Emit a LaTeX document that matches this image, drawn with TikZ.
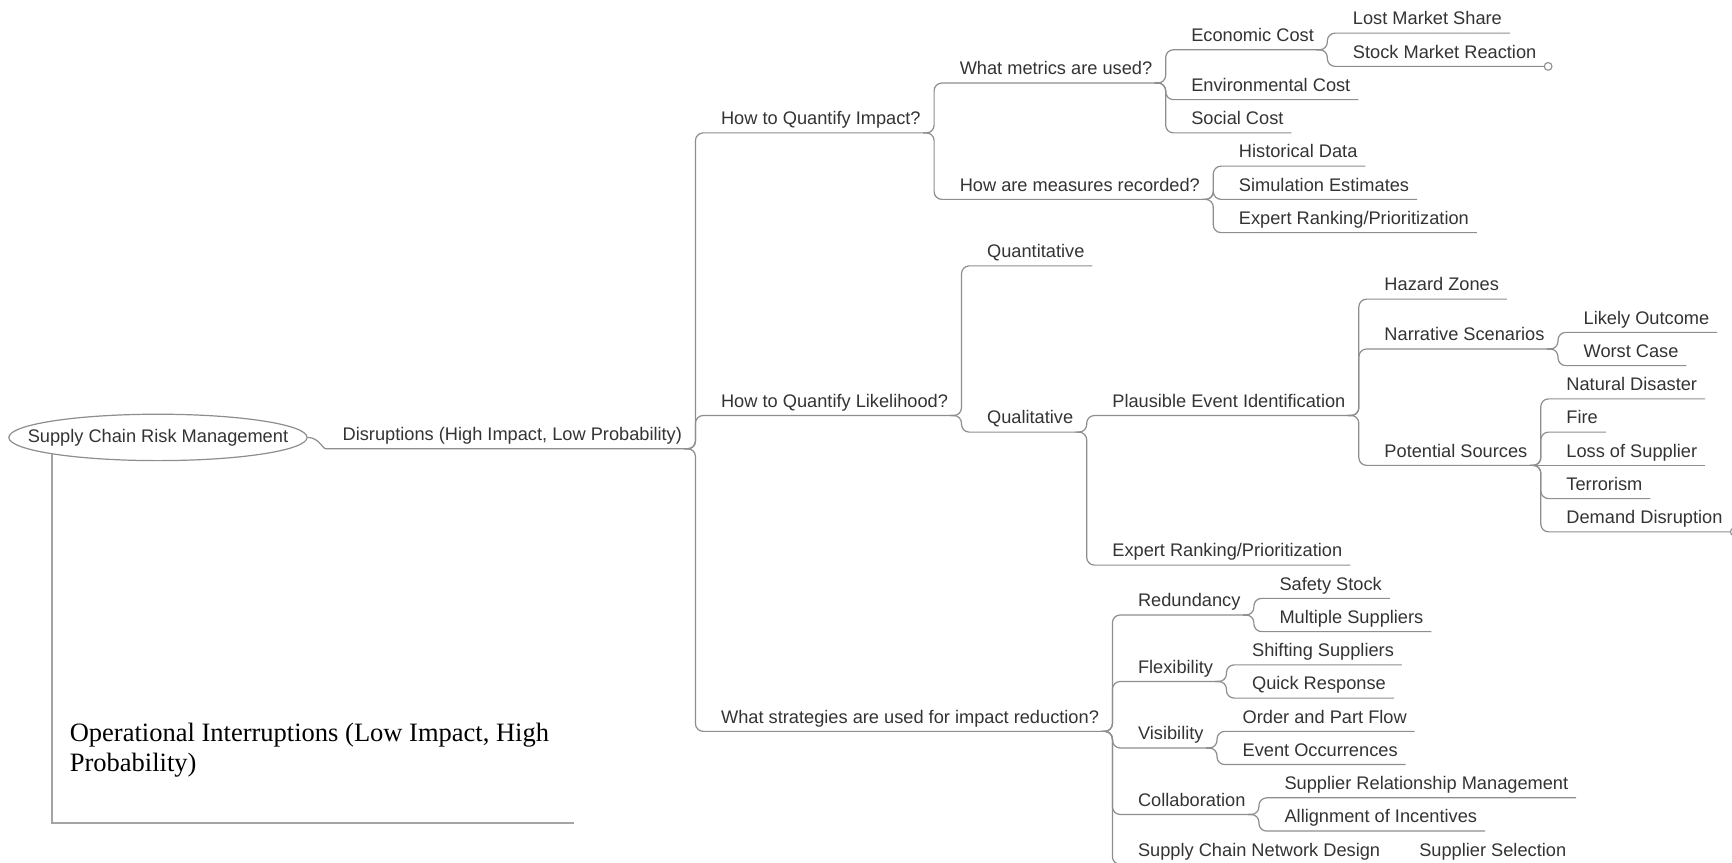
\documentclass[tikz,border=0pt]{standalone}
\usepackage{fontspec}
\setmainfont{Liberation Sans}
\newfontfamily\opfont{Liberation Serif}
\usetikzlibrary{calc,shapes.geometric}
\definecolor{linec}{HTML}{8E8E8E}
\definecolor{textc}{HTML}{333333}
\definecolor{boxc}{HTML}{A4A4A4}
\tikzset{
  txt/.style={inner sep=0pt, anchor=base west, text=textc, font=\fontsize{16.5}{19}\selectfont},
  ln/.style={draw=linec, line width=1.1pt, rounded corners=7pt},
  handle/.style={circle, draw=linec, line width=1pt, minimum size=7pt, inner sep=0pt},
}
\newcommand\mmlink[2]{%
  \draw[ln] ($(#1.base east)+(2,7.5)$) -- ($(#1.base east)+(12,7.5)$) |- ($(#2.base east)+(7,7.5)$);}
\newcommand\mmstraight[2]{%
  \draw[ln] ($(#1.base east)+(2,7.5)$) -- ($(#2.base east)+(7,7.5)$);}
\newcommand\mmnode[4]{%
  \path let \p1=(#2.base east) in node[txt] (#1) at (\x1+35pt, #3+5.5) {#4};}
\newcommand\mmchild[4]{\mmnode{#1}{#2}{#3}{#4}\mmlink{#2}{#1}}
\newcommand\mmchildS[4]{\mmnode{#1}{#2}{#3}{#4}\mmstraight{#2}{#1}}
\begin{document}
\begin{tikzpicture}[x=1pt,y=-1pt]
\useasboundingbox (0,0) rectangle (1568,781);
% root
\node[ellipse, draw=linec, line width=1.1pt, minimum width=270pt, minimum height=42pt,
      inner sep=0pt] (root) at (143,396) {};
\node[inner sep=0pt, text=textc, font=\fontsize{16.5}{19}\selectfont] (rootlbl) at (root.center) {Supply Chain Risk Management};
\node[txt] (D) at (310,398.75) {Disruptions (High Impact, Low Probability)};
\draw[ln] (root.east) to[out=0,in=180] ($(D.base west)+(-8,7.5)$) -- ($(D.base east)+(7,7.5)$);
% level 1
\mmchild{I}{D}{107.3}{How to Quantify Impact?}
\mmchild{Lk}{D}{363.15}{How to Quantify Likelihood?}
\mmchild{S}{D}{649.1}{What strategies are used for impact reduction?}
% impact
\mmchild{M}{I}{62.15}{What metrics are used?}
\mmchild{R}{I}{167.5}{How are measures recorded?}
\mmchild{Econ}{M}{32.05}{Economic Cost}
\mmchild{Env}{M}{77.2}{Environmental Cost}
\mmchild{Soc}{M}{107.3}{Social Cost}
\mmchild{Lost}{Econ}{17}{Lost Market Share}
\mmchild{Stock}{Econ}{47.1}{Stock Market Reaction}
\node[handle] (stc) at ($(Stock.base east)+(10.5,7.5)$) {};
\mmchild{Hist}{R}{137.4}{Historical Data}
\mmchild{Sim}{R}{167.5}{Simulation Estimates}
\mmchild{Exp}{R}{197.6}{Expert Ranking/Prioritization}
% likelihood
\mmchild{Qn}{Lk}{227.7}{Quantitative}
\mmchild{Ql}{Lk}{378.2}{Qualitative}
\mmchild{PEI}{Ql}{363.15}{Plausible Event Identification}
\mmchild{ExpB}{Ql}{498.6}{Expert Ranking/Prioritization}
\mmchild{Haz}{PEI}{257.8}{Hazard Zones}
\mmchild{Narr}{PEI}{302.95}{Narrative Scenarios}
\mmchild{Pot}{PEI}{408.3}{Potential Sources}
\mmchild{Likely}{Narr}{287.9}{Likely Outcome}
\mmchild{Worst}{Narr}{318.0}{Worst Case}
\mmchild{Nat}{Pot}{348.1}{Natural Disaster}
\mmchild{Fire}{Pot}{378.2}{Fire}
\mmchildS{Loss}{Pot}{408.3}{Loss of Supplier}
\mmchild{Terr}{Pot}{438.4}{Terrorism}
\mmchild{Dem}{Pot}{468.5}{Demand Disruption}
\node[handle] (dmc) at ($(Dem.base east)+(10.5,7.5)$) {};
% strategies
\mmchild{Red}{S}{543.75}{Redundancy}
\mmchild{Flex}{S}{603.95}{Flexibility}
\mmchild{Vis}{S}{664.15}{Visibility}
\mmchild{Col}{S}{724.35}{Collaboration}
\mmchild{SCND}{S}{769.5}{Supply Chain Network Design}
\mmchild{Safe}{Red}{528.7}{Safety Stock}
\mmchild{Mult}{Red}{558.8}{Multiple Suppliers}
\mmchild{Shift}{Flex}{588.9}{Shifting Suppliers}
\mmchild{Quick}{Flex}{619.0}{Quick Response}
\mmchild{Order}{Vis}{649.1}{Order and Part Flow}
\mmchild{Event}{Vis}{679.2}{Event Occurrences}
\mmchild{SRM}{Col}{709.3}{Supplier Relationship Management}
\mmchild{Align}{Col}{739.4}{Allignment of Incentives}
\mmchildS{SupSel}{SCND}{769.5}{Supplier Selection}
% operational interruptions
\coordinate (opc) at (48,745);
\coordinate (ope) at (520,745);
\draw[boxc, line width=1.8pt] (root.189) -- (root.189 |- opc) -- (ope);
\node[anchor=north west, inner sep=0pt, align=left, font=\opfont\fontsize{24}{28}\selectfont] (op) at (63,654) {Operational Interruptions (Low Impact, High\\Probability)};
\end{tikzpicture}
\end{document}
